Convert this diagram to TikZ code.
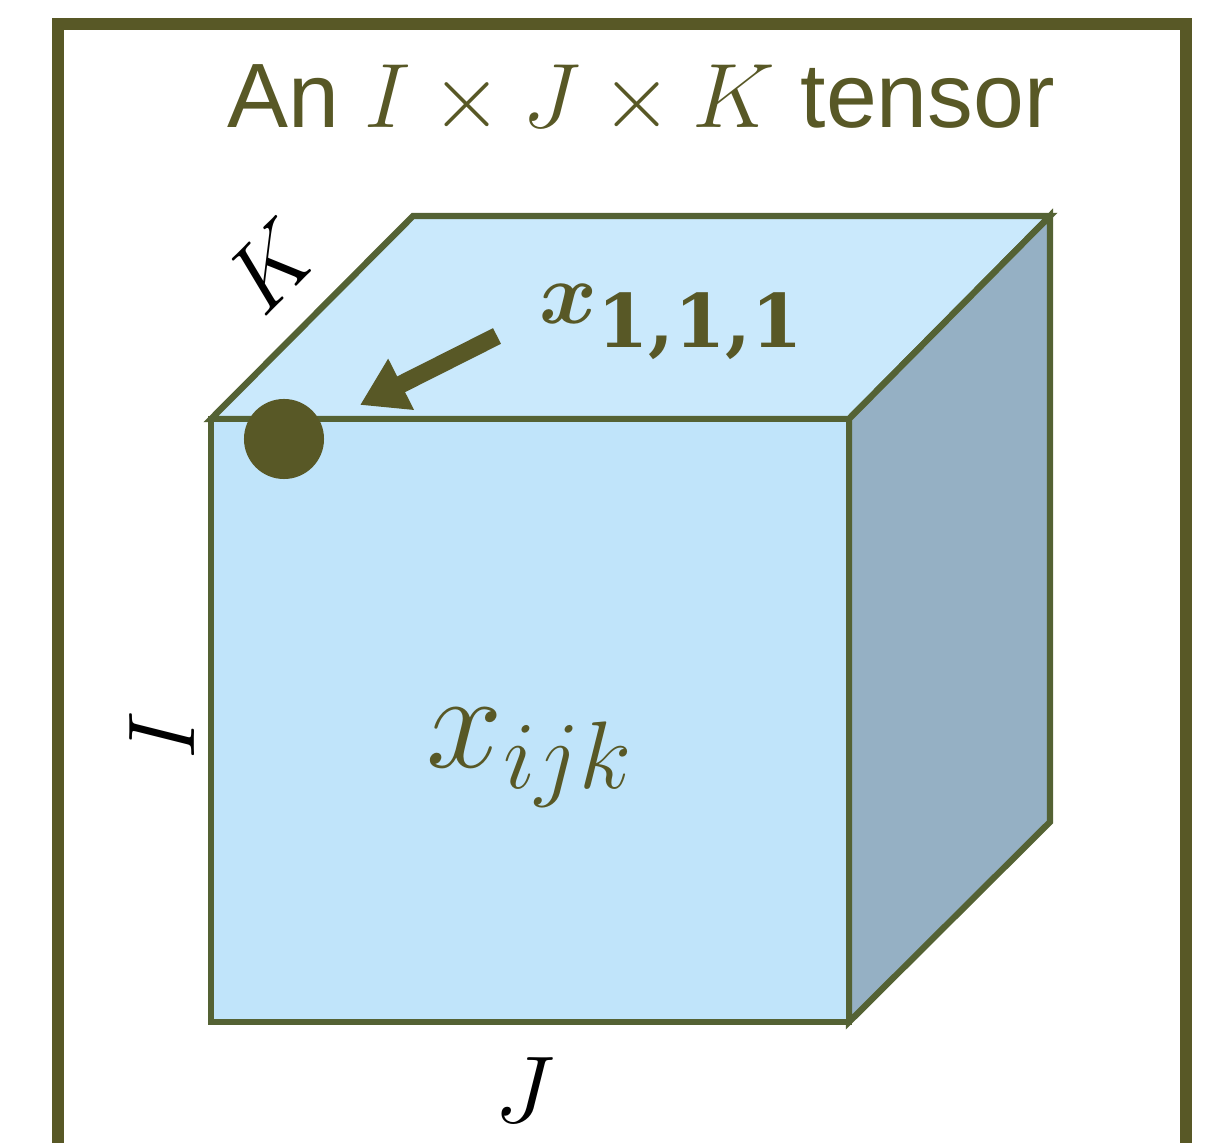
\RequirePackage{fix-cm}
\documentclass[tikz,border=0pt]{standalone}
\usepackage{amsmath,bm}
\usepackage[no-math]{fontspec}
\setmainfont{Liberation Sans}
\newfontfamily\slabfont{DejaVu Serif}
\usetikzlibrary{arrows.meta, positioning, calc}
\definecolor{frameolive}{RGB}{88,88,38}
\definecolor{edgeolive}{RGB}{84,98,52}
\definecolor{frontblue}{RGB}{192,228,250}
\definecolor{topblue}{RGB}{202,233,252}
\definecolor{sideblue}{RGB}{149,176,196}

\begin{document}
\begin{tikzpicture}[
  x=0.01cm, y=-0.01cm,
  every node/.style={inner sep=0pt},
  frameline/.style={draw=frameolive, line width=3.5pt},
  face/.style={draw=edgeolive, line width=1.8pt, line join=miter},
  dimlabel/.style={font=\fontsize{27}{30}\selectfont, text=black},
  arr/.style={-{Triangle[length=4.6mm, width=5.4mm]}, line width=5pt, draw=frameolive},
]
\useasboundingbox (0,0) rectangle (1220,1143);

%% Outer frame
\draw[frameline] (58,1143) -- (58,24) -- (1186,24) -- (1186,1143);

%% Title
\node[font=\fontsize{26}{30}\selectfont, text=frameolive] (title) at (641,100)
  {An $I \times J \times K$ tensor};

%% Cube corners
\coordinate (ftl) at (211,419);
\coordinate (ftr) at (849,419);
\coordinate (fbr) at (849,1022);
\coordinate (fbl) at (211,1022);
\coordinate (btl) at (413,216);
\coordinate (btr) at (1050,216);
\coordinate (bbr) at (1050,822);

%% Faces
\filldraw[face, fill=topblue] (ftl) -- (btl) -- (btr) -- (ftr) -- cycle;
\filldraw[face, fill=sideblue] (ftr) -- (btr) -- (bbr) -- (fbr) -- cycle;
\filldraw[face, fill=frontblue] (ftl) -- (ftr) -- (fbr) -- (fbl) -- cycle;

%% Dimension labels
\node[dimlabel, rotate=45] (klabel) at (271,266) {$K$};
\node[dimlabel, rotate=90] (ilabel) at (162,735) {$I$};
\node[dimlabel] (jlabel) at (525,1090) {$J$};

%% Entry labels
\node[font=\fontsize{39}{42}\selectfont, text=frameolive] (xijk) at (530,758) {$x_{ijk}$};
\node[font=\fontsize{25}{28}\selectfont, text=frameolive] (x111) at (672,322)
  {$\boldsymbol{x}_{\mbox{\slabfont\bfseries\fontsize{21}{24}\selectfont 1,1,1}}$};

%% First element and pointer
\node[circle, fill=frameolive, minimum size=0.8cm] (elem) at (284,439) {};
\coordinate (arrstart) at (497,336);
\coordinate (arrtip) at (360,405);
\draw[arr] (arrstart) -- (arrtip);

\end{tikzpicture}
\end{document}
